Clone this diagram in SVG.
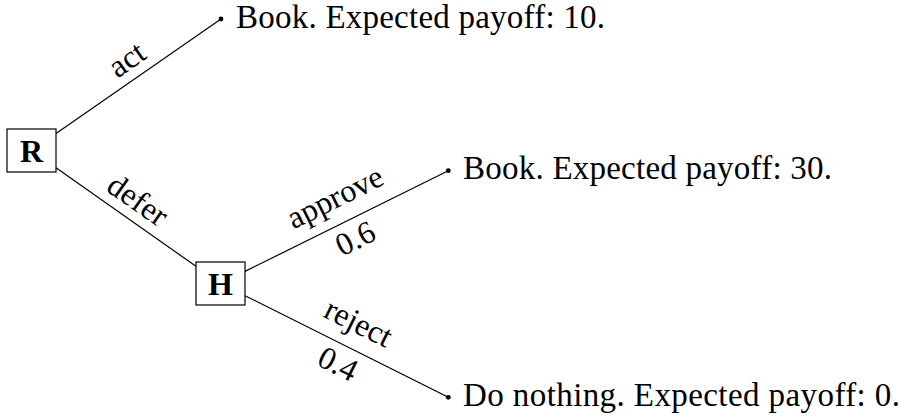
<svg xmlns="http://www.w3.org/2000/svg" width="905" height="417" viewBox="0 0 905 417">
<style>
.edge{stroke:#000;stroke-width:1.2;fill:none}
.box{fill:#fff;stroke:#000;stroke-width:1.2}
text{font-family:'Liberation Serif','Times New Roman','DejaVu Serif',serif;fill:#000}
.nl{font-weight:bold;font-size:32px;text-anchor:middle}
.lbl{font-size:32px;text-anchor:middle}
.leaf{font-size:33px}
.dot{fill:#000}
</style>
<rect width="905" height="417" fill="#fff"/>
<g id="connectors">
<line class="edge" x1="56" y1="133.5" x2="221" y2="19"/>
<line class="edge" x1="56" y1="167.7" x2="196" y2="266.3"/>
<line class="edge" x1="245" y1="271.4" x2="448.3" y2="170.7"/>
<line class="edge" x1="245" y1="295.7" x2="448.3" y2="397.3"/>
<g transform="translate(138.5,76.2) rotate(-34.8)"><text class="lbl" x="0" y="-10">act</text></g>
<g transform="translate(126,217) rotate(35.1)"><text class="lbl" x="0" y="-10">defer</text></g>
<g transform="translate(346.7,221) rotate(-26.3)"><text class="lbl" x="0" y="-16">approve</text><text class="lbl" x="0" y="30">0.6</text></g>
<g transform="translate(346.7,346.5) rotate(26.55)"><text class="lbl" x="0" y="-16">reject</text><text class="lbl" x="0" y="30">0.4</text></g>
</g>
<g id="R">
<rect class="box" x="7" y="129" width="49" height="43"/>
<text class="nl" x="31.5" y="161.5">R</text>
</g>
<g id="H">
<rect class="box" x="196" y="262" width="49" height="43"/>
<text class="nl" x="220.5" y="294.5">H</text>
</g>
<g id="leaf-act">
<circle class="dot" cx="221" cy="19" r="2.4"/>
<text class="leaf" x="236" y="27.5" textLength="369" lengthAdjust="spacing">Book. Expected payoff: 10.</text>
</g>
<g id="leaf-approve">
<circle class="dot" cx="448.3" cy="170.7" r="2.4"/>
<text class="leaf" x="463" y="179" textLength="369" lengthAdjust="spacing">Book. Expected payoff: 30.</text>
</g>
<g id="leaf-reject">
<circle class="dot" cx="448.3" cy="397.3" r="2.4"/>
<text class="leaf" x="463" y="405.5" textLength="437" lengthAdjust="spacing">Do nothing. Expected payoff: 0.</text>
</g>
</svg>
